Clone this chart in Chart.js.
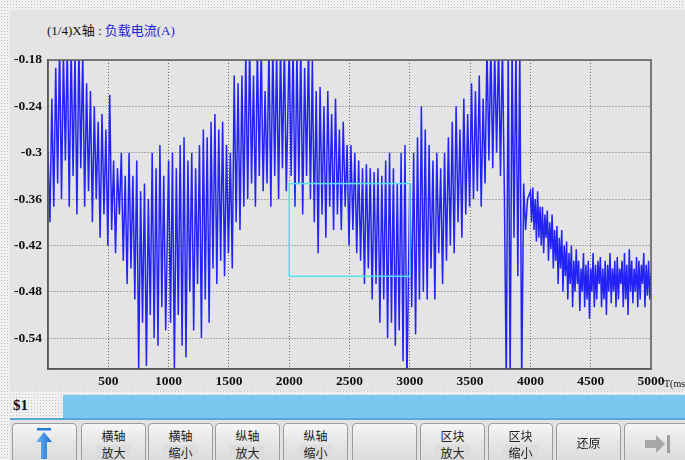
<!DOCTYPE html>
<html><head><meta charset="utf-8">
<script src="https://cdn.jsdelivr.net/npm/chart.js@4/dist/chart.umd.min.js"></script>
<style>
html,body{margin:0;padding:0;}
body{width:685px;height:460px;overflow:hidden;position:relative;background-color:#f0f0f0;
 background-image:radial-gradient(#c4c4c4 0.7px, transparent 0.9px);background-size:3px 3px;
 font-family:"Liberation Serif","Noto Sans CJK SC",serif;}
#panel{position:absolute;left:10px;top:10px;width:675px;height:381px;background:#e4e4e4;}
#cv{position:absolute;left:0;top:0;}
#title{position:absolute;left:47px;top:20px;font-size:13px;color:#111;white-space:nowrap;}
#title span{color:#2222dd;}
#unit{position:absolute;left:664px;top:378px;font-size:10px;color:#111;white-space:nowrap;}
#dollar{position:absolute;left:13px;top:397px;font-size:15px;font-weight:bold;color:#111;}
#bar{position:absolute;left:63px;top:395px;width:622px;height:23px;background:#7cc7ee;}
#barline{position:absolute;left:10px;top:418px;width:675px;height:2px;background:#58a8d8;}
#btnrow{position:absolute;left:10px;top:420px;width:675px;height:40px;background:#e2e2e2;}
.btn{position:absolute;top:423px;height:42px;width:65px;box-sizing:border-box;border:1px solid #9c9c9c;border-radius:4px;
 background:linear-gradient(#f6f6f6,#e6e6e6 45%,#dadada);text-align:center;font-family:"Noto Sans CJK SC",sans-serif;font-size:12px;color:#222;}
.btn .l1{position:absolute;left:0;right:0;top:5px;line-height:14px;}
.btn .l2{position:absolute;left:14px;right:14px;top:21px;line-height:15px;background:#dcdcdc;}
.btn .one{position:absolute;left:0;right:0;top:12px;line-height:14px;}
</style></head>
<body>
<div id="panel"></div>
<div id="title">(1/4)X轴 : <span>负载电流(A)</span></div>
<canvas id="cv" width="685" height="395"></canvas>
<div id="unit">T(ms</div>
<div id="dollar">$1</div>
<div id="bar"></div>
<div id="barline"></div>
<div id="btnrow"></div>
<div class="btn" style="left:12px">
 <svg width="63" height="40" viewBox="0 0 63 40" style="position:absolute;left:0;top:0">
  <defs><linearGradient id="g1" x1="0" x2="1"><stop offset="0" stop-color="#6fb6f2"/><stop offset="1" stop-color="#1f6fd0"/></linearGradient></defs>
  <rect x="24" y="4" width="14" height="2.5" fill="#2a78d8"/>
  <polygon points="31,8 23,18 28,18 28,35 34,35 34,18 39,18" fill="url(#g1)"/>
 </svg>
</div>
<div class="btn" style="left:81px"><div class="l1">横轴</div><div class="l2">放大</div></div>
<div class="btn" style="left:148px"><div class="l1">横轴</div><div class="l2">缩小</div></div>
<div class="btn" style="left:215px"><div class="l1">纵轴</div><div class="l2">放大</div></div>
<div class="btn" style="left:283px"><div class="l1">纵轴</div><div class="l2">缩小</div></div>
<div class="btn" style="left:352px"></div>
<div class="btn" style="left:420px"><div class="l1">区块</div><div class="l2">放大</div></div>
<div class="btn" style="left:488px"><div class="l1">区块</div><div class="l2">缩小</div></div>
<div class="btn" style="left:556px"><div class="one">还原</div></div>
<div class="btn" style="left:624px">
 <svg width="63" height="40" viewBox="0 0 63 40" style="position:absolute;left:0;top:0">
  <polygon points="20,16 31,16 31,11 40,20 31,29 31,24 20,24" fill="#a8a8a8"/>
  <rect x="42" y="11" width="3" height="18" fill="#a0a0a0"/>
 </svg>
</div>
<script>
// ---- data (load current, A); each segment is sampled at its own step ----
const segmentStartsMs = [0, 1000, 2000, 3000, 4000];
const segmentStepsMs  = [16, 16, 16, 16, 10];
const current0to1000 = [-0.30,-0.39,-0.23,-0.37,-0.19,-0.34,-0.16,-0.36,-0.17,-0.31,
 -0.16,-0.37,-0.16,-0.33,-0.17,-0.38,-0.16,-0.32,-0.17,-0.37,
 -0.21,-0.35,-0.22,-0.39,-0.24,-0.36,-0.26,-0.41,-0.25,-0.38,
 -0.27,-0.42,-0.225,-0.40,-0.31,-0.43,-0.32,-0.38,-0.30,-0.44,
 -0.33,-0.47,-0.30,-0.45,-0.33,-0.49,-0.31,-0.58,-0.35,-0.52,
 -0.34,-0.576,-0.36,-0.51,-0.30,-0.54,-0.32,-0.55,-0.29,-0.50,
 -0.33,-0.53];
const current1000to2000 = [-0.31,-0.52,-0.30,-0.58,-0.32,-0.51,-0.29,-0.55,-0.28,-0.565,
 -0.31,-0.48,-0.30,-0.53,-0.32,-0.47,-0.29,-0.54,-0.27,-0.49,
 -0.28,-0.52,-0.26,-0.45,-0.25,-0.47,-0.27,-0.44,-0.26,-0.46,
 -0.29,-0.43,-0.30,-0.45,-0.20,-0.39,-0.21,-0.40,-0.20,-0.37,
 -0.17,-0.36,-0.16,-0.34,-0.20,-0.37,-0.16,-0.33,-0.16,-0.35,
 -0.22,-0.34,-0.16,-0.37,-0.16,-0.33,-0.17,-0.36,-0.16,-0.32,
 -0.16,-0.35];
const current2000to3000 = [-0.16,-0.33,-0.16,-0.37,-0.17,-0.34,-0.16,-0.38,-0.19,-0.33,
 -0.16,-0.36,-0.18,-0.39,-0.22,-0.43,-0.215,-0.38,-0.24,-0.41,
 -0.22,-0.37,-0.25,-0.40,-0.23,-0.38,-0.27,-0.40,-0.26,-0.37,
 -0.29,-0.42,-0.29,-0.40,-0.30,-0.43,-0.31,-0.44,-0.32,-0.47,
 -0.315,-0.45,-0.32,-0.49,-0.325,-0.47,-0.32,-0.52,-0.33,-0.49,
 -0.31,-0.54,-0.30,-0.52,-0.32,-0.55,-0.34,-0.53,-0.30,-0.57,
 -0.29,-0.60];
const current3000to4000 = [-0.34,-0.50,-0.30,-0.535,-0.28,-0.49,-0.24,-0.48,-0.27,-0.49,
 -0.29,-0.45,-0.31,-0.49,-0.30,-0.43,-0.32,-0.47,-0.30,-0.44,
 -0.28,-0.42,-0.26,-0.43,-0.24,-0.39,-0.27,-0.41,-0.23,-0.38,
 -0.25,-0.37,-0.21,-0.36,-0.22,-0.35,-0.20,-0.37,-0.23,-0.34,
 -0.16,-0.31,-0.16,-0.32,-0.17,-0.30,-0.16,-0.33,-0.16,-0.35,
 -0.60,-0.16,-0.60,-0.16,-0.41,-0.16,-0.46,-0.16,-0.60,-0.34,
 -0.40,-0.36];
const current4000to5000 = [-0.35,-0.39,-0.345,-0.40,-0.36,-0.415,-0.35,-0.41,-0.37,-0.42,
 -0.37,-0.43,-0.38,-0.41,-0.375,-0.44,-0.39,-0.425,-0.38,-0.45,
 -0.40,-0.44,-0.395,-0.47,-0.41,-0.45,-0.40,-0.48,-0.42,-0.46,
 -0.415,-0.49,-0.43,-0.47,-0.42,-0.50,-0.44,-0.48,-0.425,-0.47,
 -0.44,-0.505,-0.45,-0.48,-0.43,-0.50,-0.445,-0.49,-0.44,-0.515,
 -0.45,-0.48,-0.43,-0.50,-0.445,-0.49,-0.44,-0.47,-0.435,-0.50,
 -0.45,-0.49,-0.44,-0.51,-0.445,-0.48,-0.43,-0.495,-0.45,-0.48,
 -0.44,-0.50,-0.435,-0.49,-0.45,-0.47,-0.44,-0.50,-0.43,-0.49,
 -0.445,-0.51,-0.425,-0.48,-0.44,-0.495,-0.45,-0.48,-0.435,-0.50,
 -0.44,-0.49,-0.445,-0.47,-0.43,-0.50,-0.445,-0.485,-0.44,-0.49];
const currentAt5000 = -0.455;
const segments = [current0to1000, current1000to2000, current2000to3000, current3000to4000, current4000to5000];

const xTickValues = [500,1000,1500,2000,2500,3000,3500,4000,4500,5000];
const yTickValues = [-0.18,-0.24,-0.30,-0.36,-0.42,-0.48,-0.54];
const yTickLabels = ['-0.18','-0.24','-0.3','-0.36','-0.42','-0.48','-0.54'];
const xRange = [0, 5000];
const yRange = [-0.58, -0.18];
const zoomBoxX = [2000, 3000];
const zoomBoxY = [-0.46, -0.34];

const points = [];
segments.forEach((seg, i) => seg.forEach((v, k) => points.push({x: segmentStartsMs[i] + k * segmentStepsMs[i], y: v})));
points.push({x: xRange[1], y: currentAt5000});

const framePlugin = {
  id: 'frame',
  afterDatasetsDraw(chart) {
    const {ctx, chartArea: a, scales} = chart;
    ctx.save();
    const x0 = scales.x.getPixelForValue(zoomBoxX[0]), x1 = scales.x.getPixelForValue(zoomBoxX[1]);
    const y0 = scales.y.getPixelForValue(zoomBoxY[1]), y1 = scales.y.getPixelForValue(zoomBoxY[0]);
    ctx.strokeStyle = '#4fe3ee'; ctx.lineWidth = 1.5;
    ctx.strokeRect(x0, y0, x1 - x0, y1 - y0);
    ctx.strokeStyle = '#5a5a5a'; ctx.lineWidth = 1.5;
    ctx.strokeRect(a.left, a.top, a.right - a.left, a.bottom - a.top);
    ctx.restore();
  }
};

const tickFont = {family: '"Liberation Serif", serif', size: 13.5, weight: 'bold'};
new Chart(document.getElementById('cv'), {
  type: 'line',
  data: {datasets: [{data: points, borderColor: 'rgba(8,8,250,0.88)', borderWidth: 1.5,
    pointRadius: 0, tension: 0, fill: false, clip: 0}]},
  options: {
    responsive: false, animation: false, parsing: false, normalized: true,
    layout: {padding: {top: 60, right: 34, left: 0, bottom: 0}},
    plugins: {legend: {display: false}, tooltip: {enabled: false}, title: {display: false}},
    scales: {
      x: {type: 'linear', min: xRange[0], max: xRange[1],
        afterBuildTicks: s => { s.ticks = xTickValues.map(v => ({value: v})); },
        afterFit: s => { s.height = 26; },
        ticks: {autoSkip: false, maxRotation: 0, font: tickFont, color: '#111', padding: 4,
          callback: v => String(v)},
        grid: {color: '#707070', lineWidth: 1, tickLength: 0, drawTicks: false},
        border: {display: true, color: '#5a5a5a', width: 1.5, dash: [1, 2]}},
      y: {type: 'linear', min: yRange[0], max: yRange[1],
        afterBuildTicks: s => { s.ticks = yTickValues.map(v => ({value: v})); },
        afterFit: s => { s.width = 48; },
        ticks: {autoSkip: false, font: tickFont, color: '#111', padding: 6,
          callback: (v) => { const i = yTickValues.findIndex(t => Math.abs(t - v) < 1e-9); return i >= 0 ? yTickLabels[i] : ''; }},
        grid: {color: '#707070', lineWidth: 1, tickLength: 0, drawTicks: false},
        border: {display: true, color: '#5a5a5a', width: 1.5, dash: [1, 2]}}
    }
  },
  plugins: [framePlugin]
});
</script>
</body></html>
